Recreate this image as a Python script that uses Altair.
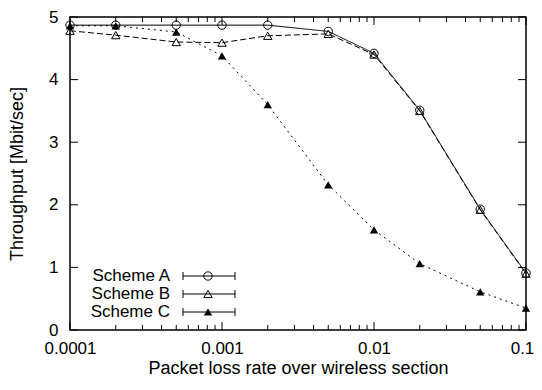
import altair as alt
import pandas as pd

# ---- data ----
loss = [0.0001, 0.0002, 0.0005, 0.001, 0.002, 0.005, 0.01, 0.02, 0.05, 0.1]
scheme_a = [4.87, 4.87, 4.87, 4.87, 4.87, 4.77, 4.42, 3.51, 1.93, 0.91]
scheme_b = [4.78, 4.71, 4.60, 4.59, 4.70, 4.73, 4.40, 3.50, 1.92, 0.90]
scheme_c = [4.86, 4.86, 4.76, 4.38, 3.60, 2.32, 1.60, 1.06, 0.61, 0.35]
series_names = ["Scheme A", "Scheme B", "Scheme C"]

y_ticks = [0, 1, 2, 3, 4, 5]
x_major = [0.0001, 0.001, 0.01, 0.1]
x_minor = [m * d for d in [0.0001, 0.001, 0.01] for m in range(2, 10)]

W, H = 456, 313
FONT = "Liberation Sans"
FS = 17
TFS = 18

df = pd.DataFrame({
    "loss": loss * 3,
    "thr": scheme_a + scheme_b + scheme_c,
    "series": [n for n in series_names for _ in loss],
})

xs = alt.Scale(type="log", domain=[0.0001, 0.1], nice=False)
ys = alt.Scale(domain=[0, 5], nice=False, zero=False)

x_axis = alt.Axis(values=x_major, format="~g", ticks=False, tickSize=0, domain=False,
                  grid=False, labelFont=FONT, labelFontSize=FS, labelColor="black",
                  labelPadding=10, labelFlush=False,
                  labelOffset={"condition": {"test": "datum.value > 0.05", "value": -4}, "value": 0},
                  title="Packet loss rate over wireless section",
                  titleFont=FONT, titleFontSize=TFS, titleFontWeight="normal",
                  titleColor="black", titlePadding=3)
y_axis = alt.Axis(values=y_ticks, ticks=False, tickSize=0, domain=False, grid=False,
                  labelFont=FONT, labelFontSize=FS, labelColor="black", labelPadding=12,
                  title="Throughput [Mbit/sec]", titleFont=FONT, titleFontSize=TFS,
                  titleFontWeight="normal", titleColor="black", titlePadding=22)


def X(field):
    return alt.X(field, scale=xs, axis=x_axis)


def Y(field):
    return alt.Y(field, scale=ys, axis=y_axis)


styles = {
    "Scheme A": dict(dash=[1, 0], shape="circle", filled=False),
    "Scheme B": dict(dash=[6, 3], shape="triangle-up", filled=False),
    "Scheme C": dict(dash=[2, 4], shape="triangle-up", filled=True),
}

layers = []
for name in series_names:
    st = styles[name]
    sub = df[df.series == name]
    layers.append(alt.Chart(sub).mark_line(color="black", strokeWidth=1,
                                            strokeDash=st["dash"]).encode(
        x=X("loss:Q"), y=Y("thr:Q")))
    layers.append(alt.Chart(sub).mark_point(shape=st["shape"], filled=st["filled"],
                                             color="black", size=70, strokeWidth=1,
                                             opacity=1).encode(
        x=X("loss:Q"), y=Y("thr:Q")))

# inward ticks
yt = pd.DataFrame({"v": y_ticks})
xM = pd.DataFrame({"v": x_major})
xm = pd.DataFrame({"v": x_minor})
tick_style = dict(color="black", strokeWidth=1)
layers.append(alt.Chart(yt).mark_rule(**tick_style).encode(
    y=Y("v:Q"), x=alt.value(0), x2=alt.value(8)))
layers.append(alt.Chart(yt).mark_rule(**tick_style).encode(
    y=Y("v:Q"), x=alt.value(W - 8), x2=alt.value(W)))
layers.append(alt.Chart(xM).mark_rule(**tick_style).encode(
    x=X("v:Q"), y=alt.value(H - 8), y2=alt.value(H)))
layers.append(alt.Chart(xM).mark_rule(**tick_style).encode(
    x=X("v:Q"), y=alt.value(0), y2=alt.value(8)))
layers.append(alt.Chart(xm).mark_rule(**tick_style).encode(
    x=X("v:Q"), y=alt.value(H - 5), y2=alt.value(H)))
layers.append(alt.Chart(xm).mark_rule(**tick_style).encode(
    x=X("v:Q"), y=alt.value(0), y2=alt.value(5)))

# legend (gnuplot-style, inside plot, bottom-left)
leg_y = [259, 277, 295]
for name, ly in zip(series_names, leg_y):
    st = styles[name]
    ld = pd.DataFrame({"name": [name]})
    layers.append(alt.Chart(ld).mark_text(align="right", baseline="middle", font=FONT,
                                          fontSize=FS, color="black").encode(
        x=alt.value(100), y=alt.value(ly), text="name:N"))
    layers.append(alt.Chart(ld).mark_rule(color="black", strokeWidth=1).encode(
        x=alt.value(113), x2=alt.value(165), y=alt.value(ly)))
    layers.append(alt.Chart(ld).mark_rule(color="black", strokeWidth=1).encode(
        x=alt.value(113), y=alt.value(ly - 4), y2=alt.value(ly + 4)))
    layers.append(alt.Chart(ld).mark_rule(color="black", strokeWidth=1).encode(
        x=alt.value(165), y=alt.value(ly - 4), y2=alt.value(ly + 4)))
    layers.append(alt.Chart(ld).mark_point(shape=st["shape"], filled=st["filled"],
                                           color="black", size=70, strokeWidth=1,
                                           opacity=1).encode(
        x=alt.value(138), y=alt.value(ly)))

chart = alt.layer(*layers).properties(
    width=W, height=H,
    autosize=alt.AutoSizeParams(type="none"),
    padding={"left": 62, "top": 9, "right": 8, "bottom": 52},
    background="white",
).configure_view(stroke="black", strokeWidth=1.5)

chart.save("out.html", embed_options={"renderer": "svg", "actions": False})
